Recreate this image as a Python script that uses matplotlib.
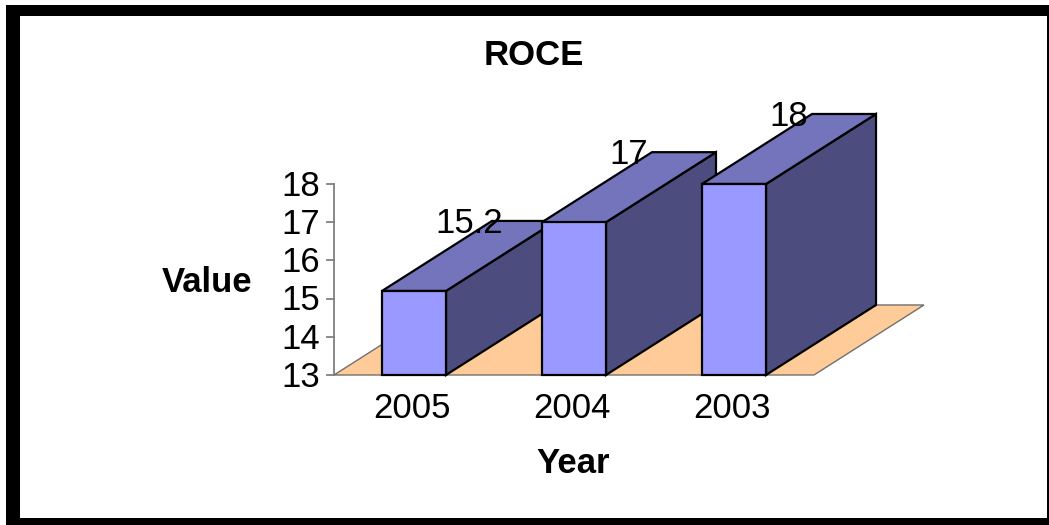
import matplotlib
matplotlib.use('Agg')  # no display
import matplotlib.pyplot as plt
from matplotlib.patches import Polygon, Rectangle

# chart values
years = ['2005', '2004', '2003']
roce = [15.2, 17, 18]
y_ticks = [13, 14, 15, 16, 17, 18]
y_base = 13
title = 'ROCE'
x_label = 'Year'
y_label = 'Value'

# fake 3D look (Excel style oblique bars)
depth_x = 0.6875   # in category units
depth_y = 1.833    # in value units
bar_w = 0.4
front_col = '#9999FF'
top_col = '#7474BC'
side_col = '#4C4C7F'
floor_col = '#FFCC99'
fs = 25

plt.rcParams['font.family'] = ['Liberation Sans', 'DejaVu Sans']

fig = plt.figure(figsize=(10.49, 5.25), dpi=100)
ax = fig.add_axes([0, 0, 1, 1])
# scale: one category = 160 px, one value unit = 38.2 px, origin at (334, 375) px
ax.set_xlim(-334 / 160, (1049 - 334) / 160)
ax.set_ylim(y_base - 150 / 38.2, y_base + 375 / 38.2)
ax.axis('off')

# frame
ax.add_patch(Rectangle((6 / 1049, 0), 1.1, 1 - 5 / 525, transform=ax.transAxes,
                       facecolor='black', edgecolor='none', zorder=0))
ax.add_patch(Rectangle((20 / 1049, 7 / 525), (1047 - 20) / 1049, (518 - 16) / 525,
                       transform=ax.transAxes, facecolor='white', edgecolor='none', zorder=0.5))

n = len(years)
# floor
ax.add_patch(Polygon([(0, y_base), (n, y_base), (n + depth_x, y_base + depth_y),
                      (depth_x, y_base + depth_y)], closed=True,
                     facecolor=floor_col, edgecolor='#707070', lw=1, zorder=1))

# value axis
ax.plot([0, 0], [y_base, y_ticks[-1]], color='#808080', lw=1.3, zorder=2)
for t in y_ticks:
    ax.plot([-7 / 160, 0], [t, t], color='#808080', lw=1.3, zorder=2)
    ax.text(-14 / 160, t - 0.31, str(t), ha='right', va='baseline', fontsize=fs)

# bars, left to right so later ones hide the side faces of earlier ones
for i, (yr, v) in enumerate(zip(years, roce)):
    c = i + 0.5
    x0, x1 = c - bar_w / 2, c + bar_w / 2
    z = 3 + i
    ax.add_patch(Polygon([(x1, y_base), (x1 + depth_x, y_base + depth_y),
                          (x1 + depth_x, v + depth_y), (x1, v)], closed=True,
                         facecolor=side_col, edgecolor='black', lw=1.6, zorder=z))
    ax.add_patch(Polygon([(x0, v), (x1, v), (x1 + depth_x, v + depth_y),
                          (x0 + depth_x, v + depth_y)], closed=True,
                         facecolor=top_col, edgecolor='black', lw=1.6, zorder=z))
    ax.add_patch(Rectangle((x0, y_base), bar_w, v - y_base,
                           facecolor=front_col, edgecolor='black', lw=1.6, zorder=z))
    lab = f'{v:g}'
    ax.text(c + depth_x / 2, v + depth_y - 0.31, lab, ha='center', va='baseline',
            fontsize=fs, zorder=10)
    ax.text(c - 0.01, y_base - 43 / 38.2, yr, ha='center', va='baseline', fontsize=fs)

# titles
ax.text(534 / 1049, 1 - 65 / 525, title, transform=ax.transAxes, ha='center',
        va='baseline', fontsize=fs, fontweight='bold')
ax.text(207 / 1049, 1 - 292 / 525, y_label, transform=ax.transAxes, ha='center',
        va='baseline', fontsize=fs, fontweight='bold')
ax.text(573 / 1049, 1 - 473 / 525, x_label, transform=ax.transAxes, ha='center',
        va='baseline', fontsize=fs, fontweight='bold')

fig.savefig('out.png', dpi=100)
plt.close(fig)
